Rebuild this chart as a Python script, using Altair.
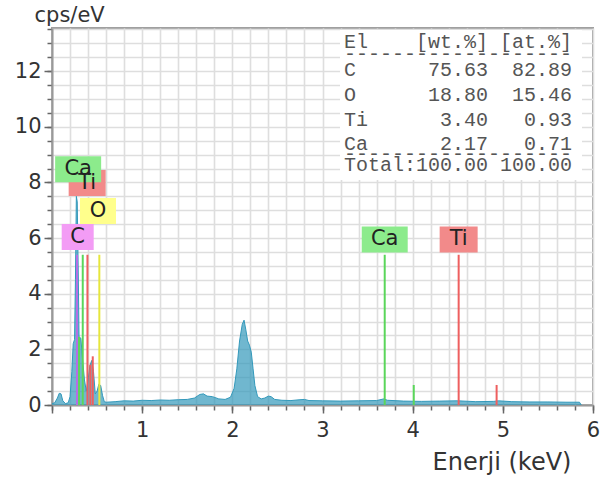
import altair as alt
import pandas as pd

# ---------------- data ----------------
energy_kev = [0.00, 0.03, 0.06, 0.08, 0.10, 0.12, 0.15, 0.18, 0.20, 0.22, 0.235, 0.25, 0.26, 0.27,
              0.28, 0.29, 0.30, 0.32, 0.34, 0.36, 0.38, 0.40, 0.42, 0.44, 0.46, 0.48, 0.50, 0.52,
              0.54, 0.56, 0.58, 0.60, 0.70, 0.80, 0.90, 1.00, 1.10, 1.20, 1.30, 1.40, 1.50, 1.58,
              1.64, 1.68, 1.72, 1.78, 1.85, 1.92, 1.98, 2.02, 2.05, 2.08, 2.11, 2.13, 2.15, 2.17,
              2.19, 2.21, 2.23, 2.25, 2.28, 2.32, 2.36, 2.40, 2.43, 2.47, 2.55, 2.65, 2.75, 2.80,
              2.85, 3.00, 3.20, 3.40, 3.60, 3.68, 3.72, 3.90, 4.10, 4.30, 4.50, 4.70, 4.90, 4.95,
              5.10, 5.30, 5.50, 5.70, 5.85, 5.87]
cps_ev = [0.05, 0.08, 0.25, 0.42, 0.40, 0.15, 0.05, 0.08, 0.30, 1.20, 2.20, 2.35, 4.50, 7.50,
          7.30, 5.00, 2.45, 2.40, 1.60, 0.90, 0.50, 0.90, 1.40, 1.60, 1.20, 0.40, 0.50, 0.75,
          0.70, 0.35, 0.12, 0.10, 0.12, 0.15, 0.14, 0.17, 0.16, 0.18, 0.17, 0.19, 0.20, 0.25,
          0.38, 0.40, 0.32, 0.30, 0.22, 0.20, 0.28, 0.60, 1.30, 2.30, 2.90, 3.05, 2.70, 2.30,
          2.15, 1.90, 1.30, 0.70, 0.30, 0.22, 0.25, 0.32, 0.30, 0.20, 0.17, 0.16, 0.19, 0.20,
          0.16, 0.15, 0.14, 0.15, 0.16, 0.22, 0.17, 0.14, 0.13, 0.14, 0.15, 0.12, 0.13, 0.15,
          0.12, 0.11, 0.11, 0.10, 0.10, 0.00]

# element marker lines
line_element = ["C", "Ca", "Ca", "Ti", "Ti", "Ti", "O", "Ca", "Ca", "Ti", "Ti"]
line_energy = [0.277, 0.300, 0.341, 0.393, 0.452, 0.425, 0.525, 3.690, 4.012, 4.510, 4.931]
line_height = [5.40, 2.45, 5.40, 5.40, 1.75, 1.45, 5.40, 5.40, 0.72, 5.40, 0.72]

# element labels
label_text = ["C", "O", "Ti", "Ca", "Ca", "Ti"]
label_energy = [0.285, 0.510, 0.390, 0.290, 3.690, 4.510]
label_level = [6.04, 6.97, 7.98, 8.47, 5.95, 5.95]
label_width_px = [32, 36, 37, 46, 46, 38]

# quantification table
tbl_el = ["C", "O", "Ti", "Ca"]
tbl_wt = ["75.63", "18.80", "3.40", "2.17"]
tbl_at = ["82.89", "15.46", "0.93", "0.71"]
tbl_total = ["100.00", "100.00"]

x_major = [0, 1, 2, 3, 4, 5, 6]
x_minor = [round(0.2 * i, 1) for i in range(31)]
y_major = [0, 2, 4, 6, 8, 10, 12]
y_minor = [round(0.5 * i, 1) for i in range(28)]

line_colors = {"C": "#b56ee6", "Ca": "#5ad65a", "Ti": "#ee5f5f", "O": "#e6e63c"}
box_colors = {"C": "#f39cf5", "Ca": "#8ceb8c", "Ti": "#f28a8a", "O": "#ffff8c"}

# ---------------- geometry ----------------
W, H = 541, 377
XMAX, YMAX = 6.0, 13.55
px_per_kev = W / XMAX
px_per_unit = H / YMAX

spec = pd.DataFrame({"E": energy_kev, "cps": cps_ev})
lines = pd.DataFrame({"E": line_energy, "h": line_height, "el": line_element})
lines["color"] = lines["el"].map(line_colors)

labels = pd.DataFrame({"t": label_text, "E": label_energy, "lv": label_level, "w": label_width_px})
labels["x1"] = labels["E"] - labels["w"] / 2 / px_per_kev
labels["x2"] = labels["E"] + labels["w"] / 2 / px_per_kev
labels["y1"] = labels["lv"] - 13 / px_per_unit
labels["y2"] = labels["lv"] + 13 / px_per_unit
labels["fill"] = labels["t"].map(box_colors)

xs = alt.Scale(domain=[0, XMAX], nice=False, zero=False)
ys = alt.Scale(domain=[0, YMAX], nice=False, zero=False)

# minor axes: grid + short ticks, no labels
x_minor_axis = alt.Axis(values=x_minor, tickCount=100, grid=True, labels=False, ticks=True,
                        tickSize=5, tickColor="#666666", tickWidth=1.5, domain=False,
                        title=None, orient="bottom", gridColor="#dedede", gridWidth=1.6)
y_minor_axis = alt.Axis(values=y_minor, tickCount=100, grid=True, labels=False, ticks=True,
                        tickSize=5, tickColor="#666666", tickWidth=1.5, domain=False,
                        title=None, orient="left", gridColor="#dedede", gridWidth=1.6)
# major axes: long ticks + labels
x_major_axis = alt.Axis(values=x_major, tickCount=100, grid=False, tickSize=8, format=".0f",
                        labelExpr="datum.value > 0 ? datum.label : ''",
                        labelOverlap=False, labelFlush=False, labelPadding=6, orient="bottom",
                        title="Enerji (keV)", titleAnchor="start", titleAlign="left",
                        titleX=380, titleY=57, titleBaseline="middle", titleFontSize=24)
y_major_axis = alt.Axis(values=y_major, tickCount=100, grid=False, tickSize=8, format=".0f",
                        labelOverlap=False, labelFlush=False, labelPadding=3, orient="left",
                        title="cps/eV", titleAngle=0, titleAlign="left", titleX=-18, titleY=-13,
                        titleBaseline="middle", titleAnchor="start")

# invisible layer carrying the minor axes
minor = alt.Chart(spec).mark_point(opacity=0).encode(
    x=alt.X("E:Q", scale=xs, axis=x_minor_axis),
    y=alt.Y("cps:Q", scale=ys, axis=y_minor_axis),
)

# white box behind the table
tbl_left_px = 288
tbl_box = alt.Chart(pd.DataFrame({"k": [0]})).mark_rect(color="white").encode(
    x=alt.value(tbl_left_px), x2=alt.value(530), y=alt.value(2), y2=alt.value(152))

area = alt.Chart(spec).mark_area(color="#3399bb", line={"color": "#3399bb", "strokeWidth": 1},
                                 interpolate="linear").encode(
    x=alt.X("E:Q", scale=xs, axis=x_major_axis),
    y=alt.Y("cps:Q", scale=ys, axis=y_major_axis),
)

rules = alt.Chart(lines).mark_rule(strokeWidth=2).encode(
    x=alt.X("E:Q", scale=xs, axis=None), y=alt.Y("h:Q", scale=ys, axis=None), y2=alt.datum(0),
    color=alt.Color("color:N", scale=None))

boxes = alt.Chart(labels).mark_rect().encode(
    x=alt.X("x1:Q", scale=xs, axis=None), x2="x2:Q",
    y=alt.Y("y1:Q", scale=ys, axis=None), y2="y2:Q",
    fill=alt.Fill("fill:N", scale=None))
texts = alt.Chart(labels).mark_text(font="DejaVu Sans", fontSize=21, color="#222",
                                    baseline="middle", align="center").encode(
    x=alt.X("E:Q", scale=xs, axis=None), y=alt.Y("lv:Q", scale=ys, axis=None), text="t:N")

# table rows (monospace, non-breaking spaces to keep alignment)
NB = "\u00a0"
rows = ["El    [wt.%] [at.%]", "-" * 19]
for el, wt, at in zip(tbl_el, tbl_wt, tbl_at):
    rows.append(f"{el:<2}{wt:>10}{at:>7}")
rows.append("-" * 19)
rows.append(f"Total:{tbl_total[0]:>6}{tbl_total[1]:>7}")
rows = [r.replace(" ", NB) for r in rows]
row_y = [14, 26, 42, 67, 92, 116, 126, 137]
tbl_df = pd.DataFrame({"s": rows, "py": row_y})
table = alt.Chart(tbl_df).mark_text(font="Liberation Mono", fontSize=20, color="#555",
                                    align="left", baseline="middle").encode(
    x=alt.value(tbl_left_px + 4), y=alt.Y("py:Q", scale=None, axis=None), text="s:N")

chart = alt.layer(minor, tbl_box, area, rules, boxes, texts, table).resolve_axis(
    x="independent", y="independent"
).properties(
    width=W, height=H,
    padding={"left": 52, "top": 28, "right": 16, "bottom": 74},
    autosize=alt.AutoSizeParams(type="none"),
).configure_view(stroke="#a0a0a0", strokeWidth=2).configure_axis(
    domainColor="#999999", domainWidth=2, tickColor="#666666", tickWidth=1.5,
    labelFont="DejaVu Sans", labelFontSize=21, labelColor="#333333",
    titleFont="DejaVu Sans", titleFontSize=21, titleColor="#333333", titleFontWeight="normal",
)

chart.save("out.html", embed_options={"renderer": "svg", "actions": False})
